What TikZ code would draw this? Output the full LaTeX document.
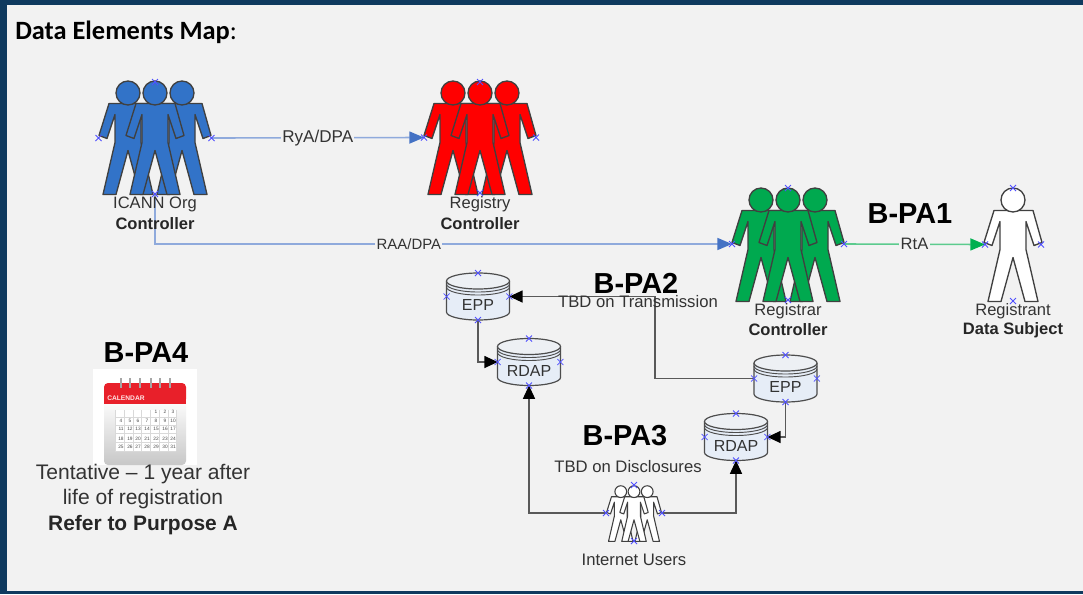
\documentclass[tikz,border=0pt]{standalone}
\usepackage{fontspec}
\setmainfont{Liberation Sans}
\newfontfamily\titlefont{Carlito}
\usetikzlibrary{arrows.meta,calc}
\definecolor{framec}{HTML}{0F3A5F}
\definecolor{bgc}{HTML}{F2F2F2}
\definecolor{bluep}{HTML}{3273C8}
\definecolor{redp}{HTML}{FF0000}
\definecolor{greenp}{HTML}{00A94F}
\definecolor{bluel}{HTML}{8FAADC}
\definecolor{bluetip}{HTML}{4472C4}
\definecolor{greenl}{HTML}{5CCB8E}
\definecolor{greentip}{HTML}{00B050}
\definecolor{cylf}{HTML}{E6EDF7}
\definecolor{cyle}{HTML}{4D4D4D}
\definecolor{linec}{HTML}{595959}
\definecolor{markc}{HTML}{5050FF}
\definecolor{txtc}{HTML}{333333}
\definecolor{calred}{HTML}{E8202A}
\tikzset{
  x=0.75pt,y=-0.75pt,
  anchorbox/.style={inner sep=0pt,outer sep=0pt,minimum width=#1},
  lbl/.style={font=\fontsize{12.4}{14}\selectfont,text=txtc,inner sep=0pt,align=center},
  blbl/.style={font=\fontsize{12.4}{14}\selectfont\bfseries,text=black!85,inner sep=0pt},
  head/.style={font=\fontsize{21.7}{24}\selectfont\bfseries,text=black,inner sep=0pt},
  sub/.style={font=\fontsize{12.5}{14}\selectfont,text=txtc,inner sep=0pt},
  big/.style={font=\fontsize{15.8}{19}\selectfont,text=txtc,inner sep=0pt},
  bigb/.style={font=\fontsize{15.7}{19}\selectfont\bfseries,text=black!85,inner sep=0pt},
  conb/.style={draw=bluel,line width=1.2pt,-{Triangle[length=11pt,width=9pt,color=bluetip]}},
  cong/.style={draw=greenl,line width=1.2pt,-{Triangle[length=11pt,width=9pt,color=greentip]}},
  conk/.style={draw=linec,line width=1.1pt,-{Triangle[length=10pt,width=9pt,color=black]}},
  edgelbl/.style={font=\fontsize{#1}{14}\selectfont,text=txtc,fill=bgc,inner sep=1pt},
  persline/.style={draw=black!75,line width=#1,line join=round},
  cyl/.style={inner sep=0pt,outer sep=0pt,minimum width=47pt,minimum height=35.25pt},
  cyltxt/.style={font=\fontsize{12}{14}\selectfont,text=txtc,inner sep=0pt},
  mk/.style={draw=markc,line width=0.55pt},
  pics/person/.style n args={3}{code={
    \begin{scope}[scale=#2]
    \draw[persline=#3,fill=#1] (-19,23)--(20,23)--(29,55)--(21,58)--(13,34)--(13,62)--(25,114)--(12,114)--(0,70)--(-12,114)--(-25,114)--(-13,62)--(-13,34)--(-21,58)--(-29,55)--cycle;
    \draw[persline=#3,fill=#1] (0,12.5) circle[radius=12];
    \end{scope}}},
  pics/crowd/.style n args={3}{code={
    \pic at (-27*#2,0) {person={#1}{#2}{#3}};
    \pic at (27*#2,0) {person={#1}{#2}{#3}};
    \pic at (0,0) {person={#1}{#2}{#3}};}},
  pics/drum/.style={code={
    \draw[cyle,line width=0.9pt,fill=cylf] (-31.5,-15.5)--(-31.5,15.5) arc[x radius=31.5,y radius=8,start angle=180,end angle=0] --(31.5,-15.5);
    \draw[cyle,line width=0.9pt,fill=bgc!60!cylf] (0,-15.5) ellipse[x radius=31.5,y radius=8];
    \draw[cyle,line width=0.7pt] (-31.5,-12.5) arc[x radius=31.5,y radius=8,start angle=180,end angle=0];
    \draw[cyle,line width=0.7pt] (-31.5,-9.5) arc[x radius=31.5,y radius=8,start angle=180,end angle=0];
    }},
}
\newcommand{\xmarks}[1]{\foreach \a in {north,south,east,west}{
  \draw[mk] ($(#1.\a)+(-3,-3)$)--++(6,6) ($(#1.\a)+(-3,3)$)--++(6,-6);}}
\begin{document}
\begin{tikzpicture}
\useasboundingbox (0,0) rectangle (1083,594);
\fill[framec] (0,0) rectangle (1083,594);
\fill[bgc] (6.5,5) rectangle (1083,591);
\node[anchor=base west,inner sep=0pt,font=\titlefont\fontsize{19.8}{24}\selectfont] (title) at (15,39) {\textbf{Data Elements Map}:};

% people
\pic at (155,80.5) {crowd={bluep}{1}{1pt}};
\pic at (480,80.5) {crowd={redp}{1}{1pt}};
\pic at (788,187.5) {crowd={greenp}{1}{1pt}};
\pic at (1013,187.5) {person={white}{1}{1pt}};
\pic at (634,485.5) {crowd={white}{0.49}{0.8pt}};
\node[anchorbox=84.75pt,minimum height=84pt] (icann) at (155,138) {};
\node[anchorbox=84pt,minimum height=83.25pt] (registry) at (480,137.5) {};
\node[anchorbox=84pt,minimum height=84pt] (registrar) at (788,244) {};
\node[anchorbox=42pt,minimum height=84.75pt] (registrant) at (1013,244.5) {};
\node[anchorbox=42pt,minimum height=42pt] (users) at (634,513) {};

% drums
\pic at (478,296.5) {drum};
\pic at (529,362) {drum};
\pic at (785.5,378.5) {drum};
\pic at (736,437) {drum};
\node[cyl] (eppa) at (478,296.5) {};
\node[cyl] (rdapa) at (529,362) {};
\node[cyl] (eppb) at (785.5,378.5) {};
\node[cyl] (rdapb) at (736,437) {};
\node[cyltxt] (eppat) at ($(eppa)+(0,8.5)$) {EPP};
\node[cyltxt] (rdapat) at ($(rdapa)+(0,8.5)$) {RDAP};
\node[cyltxt] (eppbt) at ($(eppb)+(0,8.5)$) {EPP};
\node[cyltxt] (rdapbt) at ($(rdapb)+(0,8.5)$) {RDAP};

% connectors
\draw[conb] (icann.east) -- (registry.west) node[midway,edgelbl=12.8] (rya) {RyA/DPA};
\draw[conb] (icann.south) |- (registrar.west) node[pos=0.72,edgelbl=11.2] (raa) {RAA/DPA};
\draw[cong] (registrar.east) -- (registrant.west) node[midway,edgelbl=12.4] (rta) {RtA};
\coordinate (bend) at (655,378.5);
\draw[conk] (eppb.west) -- (bend) |- (eppa.east);
\draw[conk] (eppa.south) |- (rdapa.west);
\draw[conk] (eppb.south) |- (rdapb.east);
\draw[conk] (users.west) -| (rdapa.south);
\draw[conk] (users.east) -| (rdapb.south);

% text
\node[lbl] (l1) at (155,204) {ICANN Org};
\node[blbl] (l1b) at (155,223.5) {Controller};
\node[lbl] (l2) at (480,204) {Registry};
\node[blbl] (l2b) at (480,223.5) {Controller};
\node[lbl] (l3) at (788,311) {Registrar};
\node[blbl] (l3b) at (788,330) {Controller};
\node[lbl] (l4) at (1013,311) {Registrant};
\node[blbl] (l4b) at (1013,330.5) {Data Subject};
\node[sub] (l5) at (634,560) {Internet Users};
\node[head] (p1) at (910,214) {B-PA1};
\node[head] (p2) at (636,283) {B-PA2};
\node[sub] (p2s) at (638,302) {TBD on Transmission};
\node[head] (p3) at (625,436) {B-PA3};
\node[sub] (p3s) at (628,467) {TBD on Disclosures};
\node[head] (p4) at (146,353) {B-PA4};

% calendar
\fill[white] (93,369) rectangle (197,465);
\shade[top color=white,bottom color=black!22,rounded corners=3pt] (104,398) rectangle (186,465);
\fill[calred,rounded corners=3pt] (104,383) rectangle (186,403);
\fill[calred] (104,395) rectangle (186,403.5);
\foreach \rx in {121,130,140,151,160,170}{\draw[black!35,line width=0.8pt] (\rx,378)--(\rx,388);}
\node[font=\fontsize{5}{5}\selectfont\bfseries,text=white!90!red,inner sep=0pt,anchor=west] (calt) at (107,398) {CALENDAR};
\fill[white] (115,410) rectangle (176,451);
\foreach \gx in {115,124,133,141,150,159,168,176}{\draw[black!15,line width=0.25pt] (\gx,410)--(\gx,451);}
\foreach \gy in {417,425,433,442,451}{\draw[black!15,line width=0.25pt] (115,\gy)--(176,\gy);}
\foreach \n/\cx/\cy in {1/156/412,2/165/412,3/173/412,
 4/121/421,5/130/421,6/138/421,7/147/421,8/156/421,9/165/421,10/173/421,
 11/121/429,12/130/429,13/138/429,14/147/429,15/156/429,16/165/429,17/173/429,
 18/121/439,19/130/439,20/138/439,21/147/439,22/156/439,23/165/439,24/173/439,
 25/121/447,26/130/447,27/138/447,28/147/447,29/156/447,30/165/447,31/173/447}{
  \node[font=\fontsize{3.6}{4}\selectfont,text=black!70,inner sep=0pt] at (\cx,\cy) {\n};}
\node[big] (t1) at (143,474.5) {Tentative – 1 year after};
\node[big] (t2) at (143,499) {life of registration};
\node[bigb] (t3) at (143,525) {Refer to Purpose A};

% markers
\foreach \m in {icann,registry,registrar,registrant,users,eppa,rdapa,eppb,rdapb}{\xmarks{\m}}
\end{tikzpicture}
\end{document}
